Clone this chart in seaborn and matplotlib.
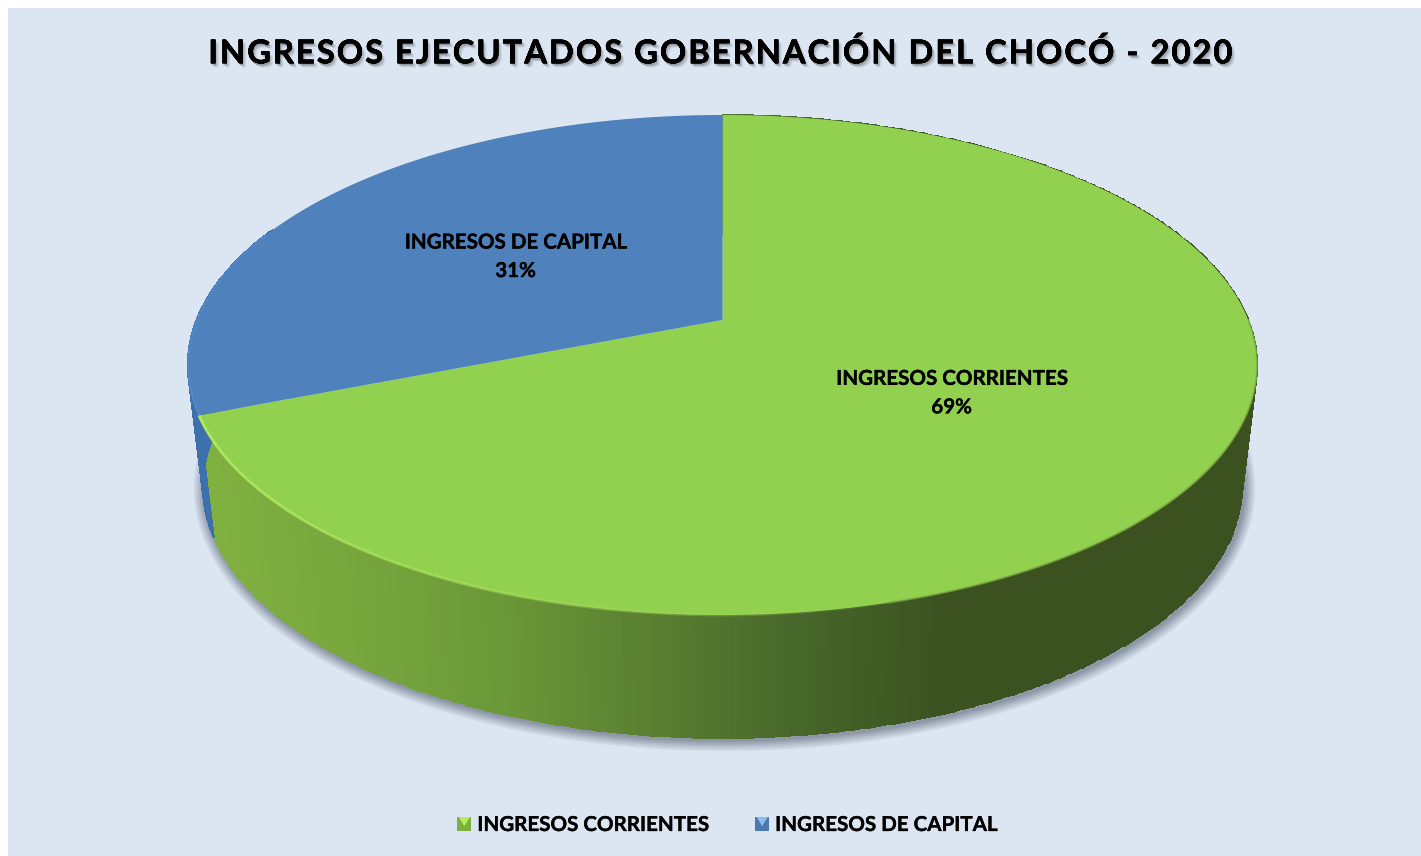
import numpy as np
import seaborn as sns
import matplotlib
matplotlib.use("Agg")
import matplotlib.pyplot as plt
import matplotlib.patheffects as pe
from matplotlib.legend_handler import HandlerPatch
from matplotlib.patches import Polygon, Rectangle
from matplotlib.path import Path
from matplotlib.transforms import Affine2D, Transform

# --- data ---
title = "INGRESOS EJECUTADOS GOBERNACIÓN DEL CHOCÓ - 2020"
names = ["INGRESOS CORRIENTES", "INGRESOS DE CAPITAL"]
values = [69, 31]
top_colors = ["#92D050", "#4F81BD"]

# --- look of the "3D" disc, in pixels of the picture ---
APEX = (722.5, 320)
WIDE, DEEP, TILT = 525.8, 241.9, 0.18
LOWER = {"drop": 120.6, "xscale": 0.972, "yscale": 1.008}

sns.set_theme(style="white")
plt.rcParams["font.family"] = ["Lato", "DejaVu Sans"]

# Lato bold is lighter than the original font, a thin outline makes up for it
heavy = [pe.withStroke(linewidth=0.22, foreground="black")]


def tilt(x, y, drop=0, xscale=1, yscale=1):
    w = 1 + TILT * y
    return APEX[0] + xscale * WIDE * x / w, APEX[1] + drop - yscale * DEEP * y / w


class TiltTransform(Transform):
    input_dims = 2
    output_dims = 2

    def transform_non_affine(self, values):
        px, py = tilt(values[:, 0], values[:, 1])
        return np.column_stack([px, py])

    def transform_path_non_affine(self, path):
        # curves have to be flattened first or the arc would not follow the tilt
        poly = path.to_polygons(Affine2D().scale(2000), closed_only=False)[0] / 2000
        return Path(self.transform_non_affine(poly))


def rim(theta1, theta2, n=300, **lower):
    t = np.radians(np.linspace(theta1, theta2, n))
    return tilt(np.cos(t), np.sin(t), **lower)


def wall(ax, theta1, theta2, cmap):
    # strips between the upper and lower rim, coloured by their x position
    x_up, y_up = rim(theta1, theta2, n=500)
    x_lo, y_lo = rim(theta1, theta2, n=500, **LOWER)
    ax.pcolormesh(
        np.vstack([x_up, x_lo]),
        np.vstack([y_up, y_lo]),
        ((x_up[:-1] + x_up[1:]) / 2)[None, :],
        cmap=cmap,
        vmin=200,
        vmax=1250,
        shading="flat",
        edgecolors="face",
        linewidth=0.2,
        zorder=2,
    )


class BevelHandler(HandlerPatch):
    def create_artists(self, legend, orig, x0, y0, w, h, fontsize, trans):
        base = Rectangle((x0, y0), w, h, facecolor=orig.dark, edgecolor="none", transform=trans)
        light = Polygon([(x0 + 1, y0 + h), (x0 + w - 1, y0 + h), (x0 + w / 2, y0 + h * 0.35)],
                        facecolor=orig.light, edgecolor="none", transform=trans)
        return [base, light]


fig = plt.figure(figsize=(14.21, 8.56), dpi=100, facecolor="white")
ax = fig.add_axes([0, 0, 1, 1])

# pie first, it gives the angles for the side wall
wedges, _, autotexts = ax.pie(
    values,
    startangle=90,
    counterclock=False,
    colors=top_colors,
    autopct="%.0f%%",
    pctdistance=0.5,
    wedgeprops={"linewidth": 0, "zorder": 4},
)
ax.set_aspect("auto")
ax.set_xlim(0, 1421)
ax.set_ylim(856, 0)
ax.set_axis_off()
ax.add_patch(Rectangle((8, 8), 1413, 848, facecolor="#DCE6F2", edgecolor="none", zorder=0))

tilted = TiltTransform() + ax.transData
for wedge in wedges:
    wedge.set_transform(tilted)

for at, name in zip(autotexts, names):
    x, y = at.get_position()
    px, py = tilt(x, y)
    at.set_position((px, py + 1.5))
    at.set_text(name + "\n" + at.get_text())
    at.set(fontsize=14.8, fontweight="bold", color="black", linespacing=1.53, zorder=6,
           path_effects=heavy)

# side wall, green part with the gradient that goes dark to the right
green, blue = wedges
wall_cmap = sns.blend_palette(
    ["#80B140", "#77A63D", "#6B9838", "#5A7F31", "#47672A", "#3B5220", "#3B5220", "#3B5220"],
    as_cmap=True,
)
wall(ax, green.theta1, green.theta2, wall_cmap)

# blue bit of the wall on the left, only the part that faces the front
wall(ax, blue.theta2 - 45, blue.theta2, sns.blend_palette(["#3F70AE", "#3F70AE"], as_cmap=True))

# soft shadow under the lower rim
x_sh, y_sh = rim(-200, 20, **{**LOWER, "drop": LOWER["drop"] + 2})
for lw in [16, 13, 10, 8, 6, 4, 2]:
    ax.plot(x_sh + 2, y_sh, color="#4A5568", lw=lw, alpha=0.1, solid_capstyle="round", zorder=1)

# bevel along the top rim, fades out towards the middle of the front
steps = np.linspace(201.6, 285, 25)
for a, b, alpha in zip(steps[:-1], steps[1:], np.linspace(0.95, 0.1, 24)):
    x_b, y_b = rim(a, b, n=30)
    ax.plot(x_b, y_b, color="#B4EC62", lw=2, alpha=alpha, solid_capstyle="butt", zorder=5)
x_b, y_b = rim(285, 360)
ax.plot(x_b, y_b, color="#7DAF43", lw=1.4, alpha=0.7, zorder=5)
x_b, y_b = rim(158, 201.6)
ax.plot(x_b, y_b, color="#5C93D4", lw=1.5, alpha=0.5, zorder=5)

# title
ax.text(
    719.5, 53, "\u200a".join(title),
    ha="center", va="center",
    fontsize=23.5, fontweight="bold", color="black", zorder=6,
    path_effects=[
        pe.withSimplePatchShadow(offset=(2.5, -3), shadow_rgbFace="black", alpha=0.08),
        pe.withSimplePatchShadow(offset=(1.5, -2.2), shadow_rgbFace="black", alpha=0.12),
        pe.withSimplePatchShadow(offset=(0.5, -1.5), shadow_rgbFace="black", alpha=0.16),
        pe.withStroke(linewidth=0.25, foreground="black"),
    ],
)

# legend
green.dark, green.light = "#7DAF3F", "#B6EE5C"
blue.dark, blue.light = "#4A78B0", "#8DBCEF"
leg = fig.legend(
    wedges, names,
    handler_map={type(green): BevelHandler()},
    loc="center",
    bbox_to_anchor=(727 / 1421, 1 - 825 / 856),
    ncol=2,
    frameon=False,
    prop={"size": 14.8, "weight": "bold"},
    handlelength=0.68,
    handleheight=0.68,
    handletextpad=0.29,
    columnspacing=2.3,
    labelcolor="black",
)
for text in leg.get_texts():
    text.set_path_effects(heavy)

fig.savefig("out.png", dpi=100)
